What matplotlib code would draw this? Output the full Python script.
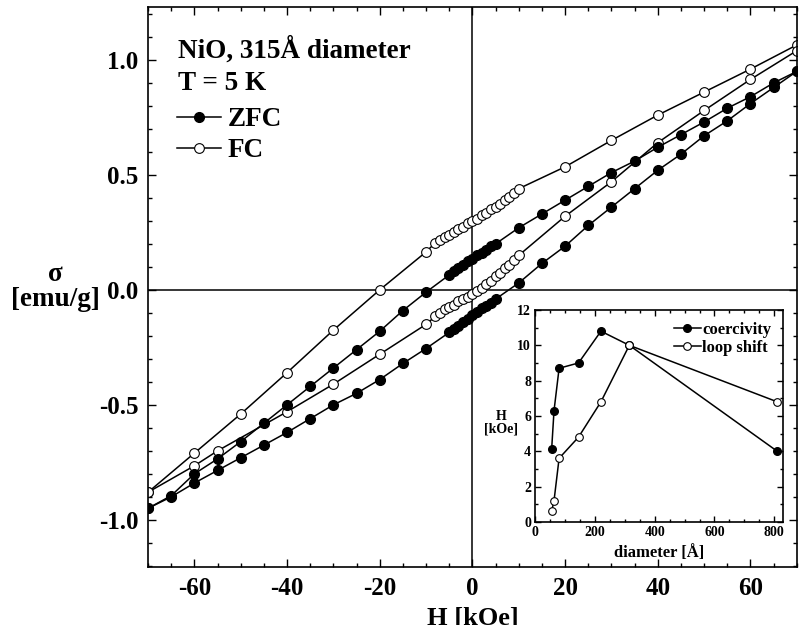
import numpy as np
import matplotlib
matplotlib.use("Agg")
import matplotlib.pyplot as plt
from matplotlib.ticker import MultipleLocator

plt.rcParams["font.family"] = ["Liberation Serif", "DejaVu Serif"]
plt.rcParams["font.weight"] = "bold"

# -- main loop data (H in kOe, sigma in emu/g) ------------------------------
zfc_up_h = [-70, -65, -60, -55, -50, -45, -40, -35, -30, -25, -20, -15, -10,
            -5, -4, -3, -2, -1, 0, 1, 2, 3, 4, 5,
            10, 15, 20, 25, 30, 35, 40, 45, 50, 55, 60, 65, 70]
zfc_up_s = [-0.95, -0.895, -0.80, -0.735, -0.66, -0.58, -0.50, -0.42, -0.34,
            -0.26, -0.18, -0.09, -0.01,
            0.065, 0.08, 0.095, 0.11, 0.125, 0.135, 0.15, 0.16, 0.175, 0.19, 0.20,
            0.27, 0.33, 0.39, 0.45, 0.51, 0.56, 0.62, 0.675, 0.73, 0.79, 0.84,
            0.90, 0.95]

zfc_lo_h = zfc_up_h
zfc_lo_s = [-0.95, -0.90, -0.84, -0.785, -0.73, -0.675, -0.62, -0.56, -0.50,
            -0.45, -0.39, -0.32, -0.255,
            -0.185, -0.17, -0.155, -0.14, -0.125, -0.11, -0.095, -0.08, -0.07,
            -0.055, -0.04,
            0.03, 0.115, 0.19, 0.28, 0.36, 0.44, 0.52, 0.59, 0.67, 0.735, 0.81,
            0.88, 0.95]

fc_up_h = [-70, -60, -50, -40, -30, -20, -10,
           -8, -7, -6, -5, -4, -3, -2, -1, 0, 1, 2, 3, 4, 5, 6, 7, 8, 9, 10,
           20, 30, 40, 50, 60, 70]
fc_up_s = [-0.88, -0.71, -0.54, -0.36, -0.175, 0.0, 0.165,
           0.205, 0.215, 0.23, 0.24, 0.25, 0.265, 0.275, 0.29, 0.30, 0.31, 0.325,
           0.335, 0.35, 0.36, 0.375, 0.39, 0.405, 0.42, 0.44,
           0.535, 0.65, 0.76, 0.86, 0.96, 1.065]

fc_lo_h = [-70, -60, -55, -40, -30, -20, -10,
           -8, -7, -6, -5, -4, -3, -2, -1, 0, 1, 2, 3, 4, 5, 6, 7, 8, 9, 10,
           20, 30, 40, 50, 60, 70]
fc_lo_s = [-0.88, -0.765, -0.70, -0.53, -0.41, -0.28, -0.15,
           -0.115, -0.10, -0.085, -0.075, -0.065, -0.05, -0.04, -0.03, -0.02,
           -0.005, 0.01, 0.025, 0.04, 0.06, 0.075, 0.095, 0.11, 0.13, 0.15,
           0.32, 0.47, 0.64, 0.78, 0.915, 1.04]

# -- inset data: size dependence ---------------------------------------------
diameter = [55, 63, 80, 145, 220, 315, 810]
coercivity = [4.1, 6.3, 8.7, 9.0, 10.8, 10.0, 4.0]
loop_shift = [0.6, 1.2, 3.6, 4.8, 6.8, 10.0, 6.8]


def style_ticks(ax, size, major, minor):
    ax.tick_params(which="both", direction="in", top=True, right=True,
                   labelsize=size, width=1)
    ax.tick_params(which="major", length=major)
    ax.tick_params(which="minor", length=minor)
    for s in ax.spines.values():
        s.set_linewidth(1.2)


fig = plt.figure(figsize=(8, 6.25), dpi=100)
ax = fig.add_axes([0.185, 0.0928, 0.811, 0.896])

ax.axhline(0, color="black", linewidth=1.1, zorder=1)
ax.axvline(0, color="black", linewidth=1.1, zorder=1)

filled = dict(color="black", marker="o", markersize=7, linewidth=1.1,
              markerfacecolor="black", markeredgecolor="black")
hollow = dict(color="black", marker="o", markersize=7, linewidth=1.1,
              markerfacecolor="white", markeredgecolor="black",
              markeredgewidth=0.8)

ax.plot(fc_up_h, fc_up_s, **hollow, label="FC")
ax.plot(fc_lo_h, fc_lo_s, **hollow)
ax.plot(zfc_up_h, zfc_up_s, **filled, label="ZFC")
ax.plot(zfc_lo_h, zfc_lo_s, **filled)

ax.set_xlim(-70, 70)
ax.set_ylim(-1.205, 1.23)
ax.xaxis.set_minor_locator(MultipleLocator(5))
ax.yaxis.set_minor_locator(MultipleLocator(0.1))
ax.set_yticks([-1.0, -0.5, 0.0, 0.5, 1.0])
ax.set_yticklabels(["-1.0", "-0.5", "0.0", "0.5", "1.0"])
ax.set_xticks([-60, -40, -20, 0, 20, 40, 60])
ax.set_xticklabels(["-60", "-40", "-20", "0", "20", "40", "60"])
style_ticks(ax, 18, 6, 3)
ax.tick_params(axis="both", pad=7)

ax.text(0.046, 0.909, "NiO, 315Å diameter", transform=ax.transAxes,
        fontsize=19.5, fontweight="bold", va="baseline")
ax.text(0.046, 0.852, "T = 5 K", transform=ax.transAxes,
        fontsize=19.5, fontweight="bold", va="baseline")

handles, labels = ax.get_legend_handles_labels()
order = [1, 0]
ax.legend([handles[i] for i in order], [labels[i] for i in order],
          loc="upper left", bbox_to_anchor=(0.045, 0.821), frameon=False,
          prop={"weight": "bold", "size": 19.5}, handlelength=1.6,
          handletextpad=0.25, labelspacing=0.22, borderpad=0, borderaxespad=0)

fig.text(0.069, 1 - 287 / 625, "σ\n[emu/g]", ha="center", va="center",
         fontsize=19.5, fontweight="bold", linespacing=0.95)
fig.text(473 / 800, 1 - 607 / 625, "H [kOe]", ha="center", va="top",
         fontsize=19, fontweight="bold")

# -- inset ---------------------------------------------------------------------
ax2 = fig.add_axes([0.669, 0.165, 0.31, 0.339])
ax2.plot(diameter, coercivity, color="black", marker="o", markersize=5.5,
         linewidth=1.1, markerfacecolor="black", label="coercivity")
ax2.plot(diameter, loop_shift, color="black", marker="o", markersize=5.5,
         linewidth=1.1, markerfacecolor="white", markeredgewidth=0.8,
         label="loop shift")
ax2.set_xlim(0, 830)
ax2.set_ylim(0, 12)
ax2.xaxis.set_major_locator(MultipleLocator(200))
ax2.xaxis.set_minor_locator(MultipleLocator(50))
ax2.yaxis.set_major_locator(MultipleLocator(2))
ax2.yaxis.set_minor_locator(MultipleLocator(1))
style_ticks(ax2, 10, 4, 2)
ax2.tick_params(axis="both", pad=3)
ax2.text(-0.137, 0.467, "H\n[kOe]", transform=ax2.transAxes, ha="center",
         va="center", fontsize=10, fontweight="bold", linespacing=1.0)
ax2.text(0.5, -0.145, "diameter [Å]", transform=ax2.transAxes, ha="center",
         va="center", fontsize=12, fontweight="bold")
ax2.legend(loc="upper right", frameon=False, prop={"weight": "bold", "size": 12},
           handlelength=1.6, handletextpad=0.1, labelspacing=0.15,
           borderaxespad=0.3)

plt.savefig("out.png", dpi=100)
